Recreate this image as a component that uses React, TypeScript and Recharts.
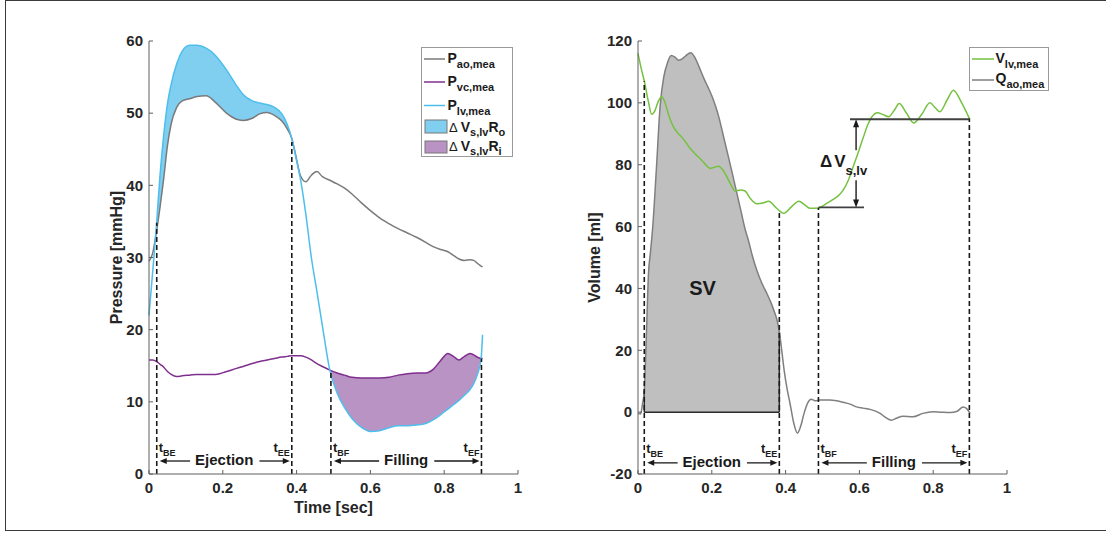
import React from "react";
import {
  ComposedChart,
  Line,
  Area,
  XAxis,
  YAxis,
  ReferenceLine,
  ReferenceDot,
  Legend,
} from "recharts";

// left panel: pressures [mmHg] sampled on one time grid [sec]
const pressureTime = [
  0, 0.01, 0.02, 0.03, 0.04, 0.05, 0.06, 0.075, 0.09, 0.11, 0.13, 0.155, 0.18,
  0.21, 0.235, 0.255, 0.28, 0.3, 0.32, 0.34, 0.36, 0.375, 0.387, 0.4, 0.41,
  0.425, 0.44, 0.455, 0.47, 0.49, 0.51, 0.53, 0.55, 0.575, 0.6, 0.625, 0.65,
  0.675, 0.7, 0.725, 0.75, 0.77, 0.79, 0.81, 0.825, 0.84, 0.855, 0.87, 0.88,
  0.89, 0.9, 0.904,
];
const aorticPressure = [
  29.5, 30.6, 33.5, 37, 41, 45.5, 48.5, 50.8, 51.7, 52.0, 52.3, 52.4, 51.5,
  50.0, 49.2, 49.0, 49.3, 49.9, 50.1, 49.7, 48.9, 47.8, 46.5, 43.6, 41.4, 40.5,
  41.4, 41.9, 41.2, 40.7, 40.2, 39.6, 38.8, 37.6, 36.5, 35.5, 34.7, 34.0, 33.4,
  32.8, 32.1, 31.5, 31.1, 30.8, 30.3, 29.8, 29.6, 29.7, 29.6, 29.2, 28.8, 28.7,
];
const venousPressure = [
  15.8, 15.8, 15.6, 15.2, 14.8, 14.2, 13.8, 13.5, 13.6, 13.7, 13.8, 13.8, 13.8,
  14.2, 14.6, 14.9, 15.3, 15.6, 15.8, 16.0, 16.2, 16.3, 16.4, 16.4, 16.4, 16.2,
  15.8, 15.3, 14.9, 14.4, 14.0, 13.7, 13.4, 13.3, 13.3, 13.3, 13.4, 13.7, 13.9,
  14.0, 14.0, 14.5, 15.7, 16.7, 16.3, 15.8, 16.3, 16.7, 16.5, 16.2, 16.0, 16.0,
];
const ventriclePressure = [
  22.0, 28.0, 34.3, 41.5, 47.0, 51.3, 54.0, 56.8, 58.6, 59.4, 59.4, 59.0, 58.0,
  56.0, 54.0, 52.6, 51.7, 51.4, 51.2, 50.8, 49.9, 48.4, 46.5, 43.4, 41.0, 36.0,
  30.0, 25.3, 20.5, 14.4, 11.2, 9.2, 7.7, 6.5, 5.9, 6.0, 6.4, 6.7, 6.7, 6.8,
  7.0, 7.5, 8.2, 9.0, 9.6, 10.2, 10.9, 11.7, 12.5, 13.8, 16.0, 19.3,
];

// right panel: ventricular volume [ml] and aortic flow
const volumeTime = [
  0, 0.008, 0.018, 0.028, 0.037, 0.046, 0.055, 0.064, 0.072, 0.082, 0.095,
  0.106, 0.118, 0.13, 0.141, 0.155, 0.168, 0.182, 0.195, 0.207, 0.218, 0.23,
  0.241, 0.252, 0.263, 0.278, 0.29, 0.305, 0.322, 0.338, 0.354, 0.375, 0.395,
  0.415, 0.436, 0.452, 0.467, 0.489, 0.51, 0.529, 0.545, 0.556, 0.57, 0.583,
  0.597, 0.611, 0.623, 0.634, 0.649, 0.664, 0.679, 0.694, 0.708, 0.727, 0.747,
  0.77, 0.791, 0.805, 0.818, 0.838, 0.855, 0.875, 0.898,
];
const ventricleVolume = [
  116, 111.5, 106.5, 100.5, 96.3, 97.5, 100.5, 102, 100.5, 96.5, 92.5, 90.5,
  89.0, 87.2, 85.3, 83.5, 82.0, 80.2, 78.8, 79.2, 79.5, 78.3, 76.1, 73.5, 71.5,
  71.8, 71.5, 69.0, 67.4, 67.6, 68.2, 66.0, 64.3, 66.3, 68.2, 67.0, 65.9, 66.0,
  67.4, 68.8, 70.2, 71.8, 75.0, 79.3, 84.0, 89.0, 93.0, 95.5, 96.8, 96.2, 95.5,
  97.5, 99.8, 96.8, 93.5, 96.5, 100.0, 98.5, 97.1, 101.0, 104.1, 100.5, 95.0,
];
const flowTime = [
  0, 0.007, 0.012, 0.017, 0.023, 0.028, 0.034, 0.04, 0.05, 0.06, 0.07, 0.08,
  0.09, 0.1, 0.11, 0.12, 0.13, 0.143, 0.155, 0.165, 0.18, 0.19, 0.2, 0.21,
  0.22, 0.23, 0.24, 0.255, 0.266, 0.28, 0.29, 0.3, 0.31, 0.322, 0.336, 0.35,
  0.36, 0.37, 0.377, 0.383, 0.39, 0.396, 0.404, 0.412, 0.422, 0.432, 0.441,
  0.45, 0.46, 0.469, 0.48, 0.493, 0.52, 0.556, 0.575, 0.592, 0.61, 0.629,
  0.656, 0.672, 0.687, 0.7, 0.718, 0.745, 0.772, 0.799, 0.82, 0.846, 0.865,
  0.881, 0.89, 0.9,
];
const aorticFlow = [
  -0.4, -0.6, 2.5, 7, 26, 44, 52, 60, 79, 99, 108.5, 113, 115.3, 114.8, 113.8,
  114.2, 115.3, 116.2, 114.5, 111.8, 107.5, 105, 102.3, 99, 95, 90, 85, 77.5,
  71.8, 64.5, 59.3, 55.2, 50.5, 45.9, 41.6, 38.2, 35.5, 32.3, 29.7, 26, 19.5,
  13.6, 7.5, 2.8, -3.5, -6.8, -4.5, -0.4, 3.0, 4.2, 3.7, 3.9, 3.9, 3.2, 2.6,
  1.7, 1.3, 0.9, -0.4, -1.8, -2.6, -2.0, -1.3, -1.5, -0.4, 0.1, 0.0, -0.1, 0.3,
  1.7, 1.2, -0.4,
];

// phase markers: t_BE, t_EE, t_BF, t_EF and where the dashed line stops
const pressurePhaseTimes = [0.021, 0.387, 0.493, 0.901];
const pressurePhaseTops = [34.8, 46.0, 14.2, 16.0];
const volumePhaseTimes = [0.017, 0.383, 0.489, 0.898];
const volumePhaseTops = [107, 64.4, 66.0, 95.0];

// ΔV s,lv step: end-systolic and end-diastolic volume
const strokeLevels = [66.2, 94.7];

const timeTicks = [0, 0.2, 0.4, 0.6, 0.8, 1];
const pressureTicks = [0, 10, 20, 30, 40, 50, 60];
const volumeTicks = [-20, 0, 20, 40, 60, 80, 100, 120];

const ink = "#1a1a1a";
const axisGrey = "#5e5e5e";
const colours = {
  pao: "#7a7a7a",
  pvc: "#7e2f8e",
  plv: "#4dbeee",
  ro: "#80cff0",
  ri: "#b993c4",
  vlv: "#74c23f",
  qao: "#7f7f7f",
  sv: "#bfbfbf",
};
const FONT = '"Liberation Sans", Arial, sans-serif';

const pressureData = pressureTime.map((t, i) => ({
  t,
  pao: aorticPressure[i],
  pvc: venousPressure[i],
  plv: ventriclePressure[i],
  ro:
    t >= pressureTime[2] && t <= pressurePhaseTimes[1]
      ? [aorticPressure[i], ventriclePressure[i]]
      : null,
  ri:
    t >= 0.49 && t <= 0.9 ? [ventriclePressure[i], venousPressure[i]] : null,
}));

const volumeByT = new Map(volumeTime.map((t, i) => [t, ventricleVolume[i]]));
const flowByT = new Map(flowTime.map((t, i) => [t, aorticFlow[i]]));
const volumeData = Array.from(new Set([...volumeTime, ...flowTime]))
  .sort((a, b) => a - b)
  .map((t) => {
    const q = flowByT.has(t) ? flowByT.get(t)! : null;
    return {
      t,
      vlv: volumeByT.has(t) ? volumeByT.get(t)! : null,
      qao: q,
      sv:
        q !== null && t >= volumePhaseTimes[0] && t <= volumePhaseTimes[1]
          ? [0, q]
          : null,
    };
  });

let measureCtx: CanvasRenderingContext2D | null = null;
const textWidth = (s: string, font: string) => {
  if (!measureCtx && typeof document !== "undefined") {
    measureCtx = document.createElement("canvas").getContext("2d");
  }
  if (!measureCtx) return s.length * 8;
  measureCtx.font = font;
  return measureCtx.measureText(s).width;
};

// "t_BE  <-- Ejection -->  t_EE" drawn along a reference segment
function PhaseBar(props: any) {
  const { x1, x2, y1, name, from, to } = props;
  const y = y1;
  const mid = (x1 + x2) / 2;
  const half = textWidth(name, `bold 15px ${FONT}`) / 2;
  const a0 = x1 + 3;
  const a1 = mid - half - 5;
  const b0 = mid + half + 6;
  const b1 = x2 - 2;
  return (
    <g fill={ink}>
      <line x1={a0 + 6} y1={y} x2={a1} y2={y} stroke={ink} strokeWidth={1.3} />
      <path d={`M${a0},${y}L${a0 + 7},${y - 3}L${a0 + 7},${y + 3}Z`} />
      <text x={mid} y={y + 4} textAnchor="middle" fontSize={15} fontWeight="bold">
        {name}
      </text>
      <line x1={b0} y1={y} x2={b1 - 6} y2={y} stroke={ink} strokeWidth={1.3} />
      <path d={`M${b1},${y}L${b1 - 7},${y - 3}L${b1 - 7},${y + 3}Z`} />
      <text x={x1 + 2} y={y - 9.5} fontSize={13} fontWeight="bold">
        t<tspan fontSize={9} dy={4}>{from}</tspan>
      </text>
      <text x={x2 - 2} y={y - 9.5} fontSize={13} fontWeight="bold" textAnchor="end">
        t<tspan fontSize={9} dy={4}>{to}</tspan>
      </text>
    </g>
  );
}

function Arrow(props: any) {
  const { x1, y1, x2, y2 } = props;
  const dir = y2 < y1 ? 1 : -1;
  return (
    <g>
      <line x1={x1} y1={y1} x2={x2} y2={y2 + dir * 6} stroke={ink} strokeWidth={1.4} />
      <path
        d={`M${x2},${y2}L${x2 - 3},${y2 + dir * 8}L${x2 + 3},${y2 + dir * 8}Z`}
        fill={ink}
      />
    </g>
  );
}

const subText = (main: string, sub: string, x: number, y: number) => (
  <text x={x} y={y} fill={ink} fontWeight="bold" fontSize={14}>
    {main}
    <tspan fontSize={11} dy={5}>
      {sub}
    </tspan>
  </text>
);

const deltaText = (sub: string, x: number, y: number) => (
  <text x={x} y={y} fill={ink} fontWeight="bold" fontSize={14}>
    <tspan fontWeight="normal" fontSize={13}>
      Δ
    </tspan>
    <tspan dx={3}>V</tspan>
    <tspan fontSize={11} dy={4}>
      s,lv
    </tspan>
    <tspan dy={-4}>R</tspan>
    <tspan fontSize={11} dy={4}>
      {sub}
    </tspan>
  </text>
);

function PressureLegend() {
  return (
    <div
      style={{
        width: 92,
        height: 110,
        border: "1px solid #9a9a9a",
        background: "#fff",
        boxSizing: "border-box",
      }}
    >
      <svg width={90} height={108} style={{ display: "block", overflow: "visible" }}>
        {[
          { c: colours.pao, sub: "ao,mea", y: 11 },
          { c: colours.pvc, sub: "vc,mea", y: 34 },
          { c: colours.plv, sub: "lv,mea", y: 57.5 },
        ].map((r) => (
          <g key={r.sub}>
            <line x1={2} x2={23} y1={r.y} y2={r.y} stroke={r.c} strokeWidth={1.5} />
            {subText("P", r.sub, 25.5, r.y + 4)}
          </g>
        ))}
        <rect x={3} y={72} width={22} height={13} fill={colours.ro} stroke="#777" />
        {deltaText("o", 27, 83.5)}
        <rect x={3} y={93} width={22} height={12} fill={colours.ri} stroke="#777" />
        {deltaText("i", 27, 103)}
      </svg>
    </div>
  );
}

function VolumeLegend() {
  return (
    <div
      style={{
        width: 80,
        height: 44,
        border: "1px solid #9a9a9a",
        background: "#fff",
        boxSizing: "border-box",
      }}
    >
      <svg width={78} height={42} style={{ display: "block", overflow: "visible" }}>
        <line x1={2} x2={24} y1={11} y2={11} stroke={colours.vlv} strokeWidth={1.5} />
        {subText("V", "lv,mea", 25.5, 15)}
        <line x1={2} x2={24} y1={32} y2={32} stroke={colours.qao} strokeWidth={1.5} />
        {subText("Q", "ao,mea", 25.5, 35)}
      </svg>
    </div>
  );
}

const tickStyle = { fill: "#262626", fontSize: 15, fontWeight: "bold" };
const axisLabel = { fill: "#262626", fontSize: 16, fontWeight: "bold" };

function PressurePanel() {
  return (
    <ComposedChart
      width={550}
      height={534}
      data={pressureData}
      margin={{ top: 41, right: 32, bottom: 10, left: 83 }}
    >
      <XAxis
        type="number"
        dataKey="t"
        domain={[0, 1]}
        ticks={timeTicks}
        interval={0}
        height={50}
        tickSize={-4}
        tickMargin={12}
        axisLine={{ stroke: axisGrey }}
        tickLine={{ stroke: axisGrey }}
        tick={tickStyle}
        label={{ value: "Time [sec]", position: "insideBottom", offset: 11, ...axisLabel }}
      />
      <YAxis
        type="number"
        domain={[0, 60]}
        ticks={pressureTicks}
        interval={0}
        width={66}
        tickSize={-4}
        tickMargin={10}
        allowDataOverflow
        axisLine={{ stroke: axisGrey }}
        tickLine={{ stroke: axisGrey }}
        tick={tickStyle}
        label={{ value: "Pressure [mmHg]", angle: -90, position: "center", ...axisLabel }}
      />
      <Area
        dataKey="ro"
        type="monotone"
        fill={colours.ro}
        fillOpacity={1}
        stroke="none"
        dot={false}
        activeDot={false}
        isAnimationActive={false}
      />
      <Area
        dataKey="ri"
        type="monotone"
        fill={colours.ri}
        fillOpacity={1}
        stroke="none"
        dot={false}
        activeDot={false}
        isAnimationActive={false}
      />
      <Line dataKey="pao" type="monotone" stroke={colours.pao} strokeWidth={1.5} dot={false} isAnimationActive={false} />
      <Line dataKey="pvc" type="monotone" stroke={colours.pvc} strokeWidth={1.5} dot={false} isAnimationActive={false} />
      <Line dataKey="plv" type="monotone" stroke={colours.plv} strokeWidth={1.5} dot={false} isAnimationActive={false} />
      {pressurePhaseTimes.map((t, i) => (
        <ReferenceLine
          key={t}
          segment={[
            { x: t, y: 0 },
            { x: t, y: pressurePhaseTops[i] },
          ]}
          stroke={ink}
          strokeWidth={1.6}
          strokeDasharray="5 3"
          ifOverflow="visible"
        />
      ))}
      <ReferenceLine
        segment={[
          { x: pressurePhaseTimes[0], y: 1.8 },
          { x: pressurePhaseTimes[1], y: 1.8 },
        ]}
        ifOverflow="visible"
        shape={(p: any) => <PhaseBar {...p} name="Ejection" from="BE" to="EE" />}
      />
      <ReferenceLine
        segment={[
          { x: pressurePhaseTimes[2], y: 1.8 },
          { x: pressurePhaseTimes[3], y: 1.8 },
        ]}
        ifOverflow="visible"
        shape={(p: any) => <PhaseBar {...p} name="Filling" from="BF" to="EF" />}
      />
      <Legend
        layout="horizontal"
        verticalAlign="middle"
        align="center"
        wrapperStyle={{ left: 421, top: 47, width: 92, height: 110 }}
        content={() => <PressureLegend />}
      />
    </ComposedChart>
  );
}

function VolumePanel() {
  const [tBE, tEE, tBF, tEF] = volumePhaseTimes;
  const [esv, edv] = strokeLevels;
  const tArrow = 0.591;
  return (
    <ComposedChart
      width={556}
      height={534}
      data={volumeData}
      margin={{ top: 41, right: 99, bottom: 10, left: 1 }}
    >
      <XAxis
        type="number"
        dataKey="t"
        domain={[0, 1]}
        ticks={timeTicks}
        interval={0}
        height={50}
        tickSize={-4}
        tickMargin={12}
        axisLine={{ stroke: axisGrey }}
        tickLine={{ stroke: axisGrey }}
        tick={tickStyle}
      />
      <YAxis
        type="number"
        domain={[-20, 120]}
        ticks={volumeTicks}
        interval={0}
        width={87}
        tickSize={-4}
        tickMargin={10}
        allowDataOverflow
        axisLine={{ stroke: axisGrey }}
        tickLine={{ stroke: axisGrey }}
        tick={tickStyle}
        label={{ value: "Volume [ml]", angle: -90, position: "center", ...axisLabel }}
      />
      <Area
        dataKey="sv"
        type="monotone"
        fill={colours.sv}
        fillOpacity={1}
        stroke="none"
        connectNulls
        dot={false}
        activeDot={false}
        isAnimationActive={false}
      />
      <ReferenceLine segment={[{ x: tBE, y: 0 }, { x: tEE, y: 0 }]} stroke="#2a2a2a" strokeWidth={1.5} ifOverflow="visible" />
      <ReferenceLine segment={[{ x: tEE, y: 0 }, { x: tEE, y: 26 }]} stroke="#2a2a2a" strokeWidth={1.5} ifOverflow="visible" />
      <ReferenceLine segment={[{ x: tBE, y: 0 }, { x: tBE, y: 7 }]} stroke="#2a2a2a" strokeWidth={1.5} ifOverflow="visible" />
      <Line dataKey="qao" type="monotone" stroke={colours.qao} strokeWidth={1.5} dot={false} connectNulls isAnimationActive={false} />
      <Line dataKey="vlv" type="monotone" stroke={colours.vlv} strokeWidth={1.5} dot={false} connectNulls isAnimationActive={false} />
      {volumePhaseTimes.map((t, i) => (
        <ReferenceLine
          key={t}
          segment={[
            { x: t, y: -20 },
            { x: t, y: volumePhaseTops[i] },
          ]}
          stroke={ink}
          strokeWidth={1.6}
          strokeDasharray="5 3"
          ifOverflow="visible"
        />
      ))}
      <ReferenceLine segment={[{ x: tBF, y: esv }, { x: 0.6125, y: esv }]} stroke="#404040" strokeWidth={1.8} ifOverflow="visible" />
      <ReferenceLine segment={[{ x: 0.5745, y: edv }, { x: tEF, y: edv }]} stroke="#404040" strokeWidth={1.8} ifOverflow="visible" />
      <ReferenceLine
        segment={[{ x: tArrow, y: 84.7 }, { x: tArrow, y: edv }]}
        ifOverflow="visible"
        shape={(p: any) => <Arrow {...p} />}
      />
      <ReferenceLine
        segment={[{ x: tArrow, y: 75 }, { x: tArrow, y: esv }]}
        ifOverflow="visible"
        shape={(p: any) => <Arrow {...p} />}
      />
      <ReferenceDot
        x={0.493}
        y={79.1}
        ifOverflow="visible"
        shape={(p: any) => (
          <text x={p.cx} y={p.cy} fill={ink} fontWeight="bold" fontSize={17}>
            Δ<tspan dx={2}>V</tspan>
            <tspan fontSize={13} dy={8}>
              s,lv
            </tspan>
          </text>
        )}
      />
      <ReferenceDot
        x={0.175}
        y={40}
        ifOverflow="visible"
        shape={(p: any) => (
          <text x={p.cx} y={p.cy + 7} fill={ink} fontWeight="bold" fontSize={20} textAnchor="middle">
            SV
          </text>
        )}
      />
      <ReferenceLine
        segment={[{ x: tBE, y: -16.4 }, { x: tEE, y: -16.4 }]}
        ifOverflow="visible"
        shape={(p: any) => <PhaseBar {...p} name="Ejection" from="BE" to="EE" />}
      />
      <ReferenceLine
        segment={[{ x: tBF, y: -16.4 }, { x: tEF, y: -16.4 }]}
        ifOverflow="visible"
        shape={(p: any) => <PhaseBar {...p} name="Filling" from="BF" to="EF" />}
      />
      <Legend
        layout="horizontal"
        verticalAlign="middle"
        align="center"
        wrapperStyle={{ left: 419, top: 47, width: 80, height: 44 }}
        content={() => <VolumeLegend />}
      />
    </ComposedChart>
  );
}

export default function App() {
  return (
    <div
      style={{
        position: "absolute",
        left: 0,
        top: 0,
        width: 1106,
        height: 534,
        overflow: "hidden",
        background: "#fff",
        fontFamily: FONT,
      }}
    >
      <div
        style={{
          position: "absolute",
          left: 5,
          top: 0,
          width: 1120,
          height: 531,
          border: "1px solid #3a3a3a",
          boxSizing: "border-box",
        }}
      />
      <div style={{ position: "absolute", left: 0, top: 0 }}>
        <PressurePanel />
      </div>
      <div style={{ position: "absolute", left: 550, top: 0 }}>
        <VolumePanel />
      </div>
    </div>
  );
}
